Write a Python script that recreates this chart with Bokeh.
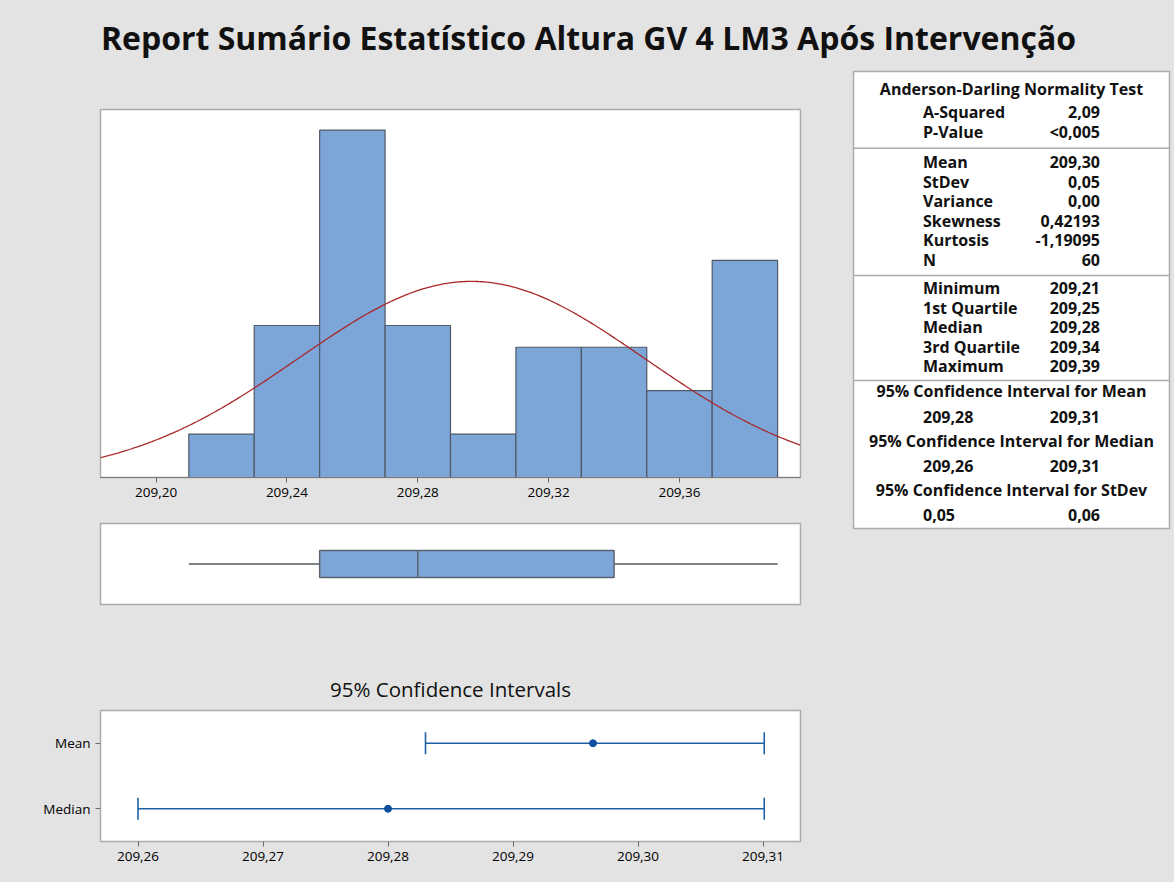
import numpy as np
from bokeh.plotting import figure
from bokeh.layouts import column, row
from bokeh.models import Range1d, FixedTicker, Label
from bokeh.embed import file_html
from bokeh.resources import INLINE
from bokeh.core.properties import value

# ---------------- data ----------------
title_text = "Report Sumário Estatístico Altura GV 4 LM3 Após Intervenção"

bin_left = [209.19, 209.21, 209.23, 209.25, 209.27, 209.29, 209.31, 209.33, 209.35, 209.37]
bin_counts = [0, 2, 7, 16, 7, 2, 6, 6, 4, 10]
bin_width = 0.02
hist_ticks = [209.20, 209.24, 209.28, 209.32, 209.36]
hist_tick_labels = ["209,20", "209,24", "209,28", "209,32", "209,36"]
fit_mean = 209.2964
fit_sd = 0.053
n_obs = 60

box_stats = {"min": 209.21, "q1": 209.25, "median": 209.28, "q3": 209.34, "max": 209.39}

ci_names = ["Mean", "Median"]
ci_center = [209.2964, 209.28]
ci_lower = [209.283, 209.26]
ci_upper = [209.3101, 209.3101]
ci_ticks = [209.26, 209.27, 209.28, 209.29, 209.30, 209.31]
ci_tick_labels = ["209,26", "209,27", "209,28", "209,29", "209,30", "209,31"]

ad_labels = ["A-Squared", "P-Value"]
ad_values = ["2,09", "<0,005"]
moment_labels = ["Mean", "StDev", "Variance", "Skewness", "Kurtosis", "N"]
moment_values = ["209,30", "0,05", "0,00", "0,42193", "-1,19095", "60"]
quart_labels = ["Minimum", "1st Quartile", "Median", "3rd Quartile", "Maximum"]
quart_values = ["209,21", "209,25", "209,28", "209,34", "209,39"]
ci_headings = ["95% Confidence Interval for Mean",
               "95% Confidence Interval for Median",
               "95% Confidence Interval for StDev"]
ci_lo_text = ["209,28", "209,26", "0,05"]
ci_hi_text = ["209,31", "209,31", "0,06"]

# ---------------- style ----------------
BG = "#e3e3e3"
BORDER = "#ababab"
FONT = "Open Sans"
BAR_FILL = "#7ca6d8"
BAR_LINE = "#4f5866"
CURVE = "#a8282c"
CI_COL = "#1f5fa8"
TXT = "#111111"


def mkfig(w, h, xr, yr, lb, rb, tb, bb, xaxis=None, yaxis=None, title=None):
    p = figure(width=w, height=h, x_range=xr, y_range=yr,
               output_backend="svg", toolbar_location=None,
               x_axis_location=xaxis, y_axis_location=yaxis, title=title,
               min_border_left=lb, min_border_right=rb,
               min_border_top=tb, min_border_bottom=bb)
    p.background_fill_color = "white"
    p.border_fill_color = BG
    p.outline_line_color = BORDER
    p.outline_line_width = 1.5
    p.xgrid.visible = False
    p.ygrid.visible = False
    return p


def style_axis(ax, size="13.5px"):
    ax.major_label_text_font = FONT
    ax.major_label_text_font_size = size
    ax.major_label_text_color = "#000000"
    ax.axis_line_color = "#7a7a7a"
    ax.major_tick_line_color = "#6a6a6a"
    ax.major_tick_out = 5
    ax.major_tick_in = 0
    ax.minor_tick_line_color = None


# ---------------- title ----------------
tp = figure(width=1174, height=63, x_range=Range1d(0, 1174), y_range=Range1d(0, 63),
            output_backend="svg", toolbar_location=None,
            x_axis_location=None, y_axis_location=None,
            min_border_left=0, min_border_right=0, min_border_top=0, min_border_bottom=0)
tp.background_fill_color = BG
tp.border_fill_color = BG
tp.outline_line_color = None
tp.xgrid.visible = False
tp.ygrid.visible = False
tp.add_layout(Label(x=588, y=26, text=title_text, text_font=FONT, text_font_size="32px",
                    text_font_style="bold", text_align="center", text_baseline="middle",
                    text_color=TXT))

# ---------------- histogram ----------------
hp = mkfig(846, 447, Range1d(209.183, 209.397), Range1d(0, 16.95), 100, 45, 46, 33, xaxis="below")
bl = np.array(bin_left)
hp.quad(left=bl, right=bl + bin_width, bottom=0, top=bin_counts,
        fill_color=BAR_FILL, line_color=BAR_LINE, line_width=1.2)
xs = np.linspace(209.183, 209.397, 300)
ys = n_obs * bin_width * np.exp(-0.5 * ((xs - fit_mean) / fit_sd) ** 2) / (fit_sd * np.sqrt(2 * np.pi))
hp.line(xs, ys, line_color=CURVE, line_width=1.3)
hp.xaxis.ticker = FixedTicker(ticks=hist_ticks)
hp.xaxis.major_label_overrides = {t: l for t, l in zip(hist_ticks, hist_tick_labels)}
style_axis(hp.xaxis[0])

# ---------------- boxplot ----------------
bp = mkfig(846, 102, Range1d(209.183, 209.397), Range1d(-1.5, 1.5), 100, 45, 13, 8)
bp.segment(x0=[box_stats["min"], box_stats["q3"]], x1=[box_stats["q1"], box_stats["max"]],
           y0=[0, 0], y1=[0, 0], line_color="#555b63", line_width=1.5)
bp.quad(left=[box_stats["q1"]], right=[box_stats["q3"]], bottom=[-0.5], top=[0.5],
        fill_color=BAR_FILL, line_color="#5c6470", line_width=1.5)
bp.segment(x0=[box_stats["median"]], x1=[box_stats["median"]], y0=[-0.5], y1=[0.5],
           line_color="#5c6470", line_width=1.5)

# ---------------- confidence intervals ----------------
cp = mkfig(846, 270, Range1d(209.257, 209.313), Range1d(0.5, 2.5), 99, 46, 98, 41,
           xaxis="below", yaxis="left", title="95% Confidence Intervals")
cp.title.align = "center"
cp.title.text_font = FONT
cp.title.text_font_size = "20.5px"
cp.title.text_font_style = "normal"
cp.title.text_color = TXT
cp.title.standoff = 15
ci_y = [2, 1]
cp.segment(x0=ci_lower, x1=ci_upper, y0=ci_y, y1=ci_y, line_color=CI_COL, line_width=1.6)
cp.scatter(x=ci_lower + ci_upper, y=ci_y + ci_y, marker="dash", angle=np.pi / 2, size=22,
           line_color=CI_COL, line_width=1.6)
cp.scatter(x=ci_center, y=ci_y, marker="circle", size=7, fill_color="#0d4f9c", line_color="#0d4f9c")
cp.xaxis.ticker = FixedTicker(ticks=ci_ticks)
cp.xaxis.major_label_overrides = {t: l for t, l in zip(ci_ticks, ci_tick_labels)}
cp.yaxis.ticker = FixedTicker(ticks=ci_y)
cp.yaxis.major_label_overrides = {y: n for y, n in zip(ci_y, ci_names)}
style_axis(cp.xaxis[0])
style_axis(cp.yaxis[0])
cp.yaxis.axis_line_color = None
cp.xaxis.axis_line_color = None

# ---------------- statistics table ----------------
TW, TH = 316, 457
sp = mkfig(328, 819, Range1d(0, TW), Range1d(TH, 0), 7, 5, 8, 354)
sp.segment(x0=[0, 0, 0], x1=[TW, TW, TW], y0=[76.7, 204, 309], y1=[76.7, 204, 309],
           line_color=BORDER, line_width=1.5)

LX, RX, CX, STEP = 69.5, 246.5, 158, 19.5
lab_x, lab_y, lab_t = [], [], []
val_x, val_y, val_t = [], [], []
for start, labels, vals in [(40.7, ad_labels, ad_values),
                            (90.7, moment_labels, moment_values),
                            (216.5, quart_labels, quart_values)]:
    for i, (l, v) in enumerate(zip(labels, vals)):
        lab_x.append(LX); lab_y.append(start + i * STEP); lab_t.append(l)
        val_x.append(RX); val_y.append(start + i * STEP); val_t.append(v)
for i in range(3):
    y = 345 + i * 49
    lab_x.append(LX); lab_y.append(y); lab_t.append(ci_lo_text[i])
    val_x.append(RX); val_y.append(y); val_t.append(ci_hi_text[i])

common = dict(text_font=value(FONT), text_font_size="16px", text_font_style="bold",
              text_baseline="middle", text_color=TXT)
sp.text(x=lab_x, y=lab_y, text=lab_t, text_align="left", **common)
sp.text(x=val_x, y=val_y, text=val_t, text_align="right", **common)
sp.text(x=[CX] * 4, y=[17.3, 319.7, 369, 418.3],
        text=["Anderson-Darling Normality Test"] + ci_headings, text_align="center", **common)

layout = column(tp, row(column(hp, bp, cp), sp))
layout.styles = {"background-color": BG}

open("out.html", "w").write(file_html(layout, INLINE))
